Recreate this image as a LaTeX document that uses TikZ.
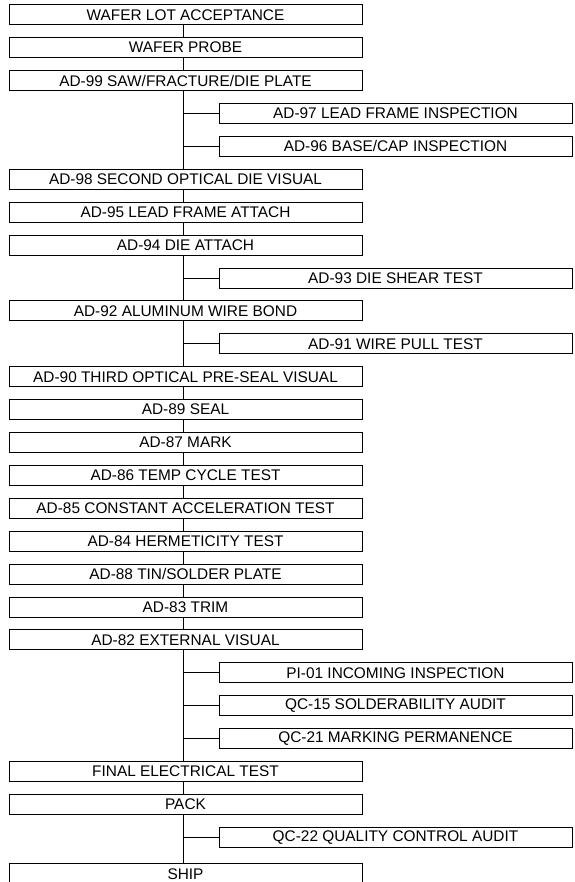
\documentclass[tikz,border=0pt]{standalone}
\usepackage{fontspec}
\setmainfont{Liberation Sans}
\begin{document}
\begin{tikzpicture}[x=1pt,y=-1pt,
  box/.style={draw=black,line width=0.9pt,inner sep=0pt,minimum height=20pt,font=\fontsize{15.4}{16}\selectfont,anchor=center},
  mainbox/.style={box,minimum width=353pt},
  sidebox/.style={box,minimum width=353pt},
  link/.style={draw=black,line width=0.9pt}]
\useasboundingbox (0,0) rectangle (574,882);
\clip (0,0) rectangle (574,882);
\coordinate (t) at (183,0);
\def\mx{185.5}
\def\sx{395.5}
\node[mainbox] (r0) at (\mx,{14.8+32.9*0}) {WAFER LOT ACCEPTANCE};
\node[mainbox] (r1) at (\mx,{14.8+32.9*1}) {WAFER PROBE};
\node[mainbox] (r2) at (\mx,{14.8+32.9*2}) {AD-99 SAW/FRACTURE/DIE PLATE};
\node[sidebox] (r3) at (\sx,{14.8+32.9*3}) {AD-97 LEAD FRAME INSPECTION};
\node[sidebox] (r4) at (\sx,{14.8+32.9*4}) {AD-96 BASE/CAP INSPECTION};
\node[mainbox] (r5) at (\mx,{14.8+32.9*5}) {AD-98 SECOND OPTICAL DIE VISUAL};
\node[mainbox] (r6) at (\mx,{14.8+32.9*6}) {AD-95 LEAD FRAME ATTACH};
\node[mainbox] (r7) at (\mx,{14.8+32.9*7}) {AD-94 DIE ATTACH};
\node[sidebox] (r8) at (\sx,{14.8+32.9*8}) {AD-93 DIE SHEAR TEST};
\node[mainbox] (r9) at (\mx,{14.8+32.9*9}) {AD-92 ALUMINUM WIRE BOND};
\node[sidebox] (r10) at (\sx,{14.8+32.9*10}) {AD-91 WIRE PULL TEST};
\node[mainbox] (r11) at (\mx,{14.8+32.9*11}) {AD-90 THIRD OPTICAL PRE-SEAL VISUAL};
\node[mainbox] (r12) at (\mx,{14.8+32.9*12}) {AD-89 SEAL};
\node[mainbox] (r13) at (\mx,{14.8+32.9*13}) {AD-87 MARK};
\node[mainbox] (r14) at (\mx,{14.8+32.9*14}) {AD-86 TEMP CYCLE TEST};
\node[mainbox] (r15) at (\mx,{14.8+32.9*15}) {AD-85 CONSTANT ACCELERATION TEST};
\node[mainbox] (r16) at (\mx,{14.8+32.9*16}) {AD-84 HERMETICITY TEST};
\node[mainbox] (r17) at (\mx,{14.8+32.9*17}) {AD-88 TIN/SOLDER PLATE};
\node[mainbox] (r18) at (\mx,{14.8+32.9*18}) {AD-83 TRIM};
\node[mainbox] (r19) at (\mx,{14.8+32.9*19}) {AD-82 EXTERNAL VISUAL};
\node[sidebox] (r20) at (\sx,{14.8+32.9*20}) {PI-01 INCOMING INSPECTION};
\node[sidebox] (r21) at (\sx,{14.8+32.9*21}) {QC-15 SOLDERABILITY AUDIT};
\node[sidebox] (r22) at (\sx,{14.8+32.9*22}) {QC-21 MARKING PERMANENCE};
\node[mainbox] (r23) at (\mx,{14.8+32.9*23}) {FINAL ELECTRICAL TEST};
\node[mainbox] (r24) at (\mx,{14.8+32.9*24}) {PACK};
\node[sidebox] (r25) at (\sx,{14.8+32.9*25}) {QC-22 QUALITY CONTROL AUDIT};
\node[mainbox,minimum height=24pt] (r26) at (\mx,{863.3+12}) {\raisebox{1.5pt}{SHIP}};
% trunk
\draw[link] (r0.south -| t) -- (r1.north -| t);
\draw[link] (r1.south -| t) -- (r2.north -| t);
\draw[link] (r2.south -| t) -- (r5.north -| t);
\draw[link] (r5.south -| t) -- (r6.north -| t);
\draw[link] (r6.south -| t) -- (r7.north -| t);
\draw[link] (r7.south -| t) -- (r9.north -| t);
\draw[link] (r9.south -| t) -- (r11.north -| t);
\draw[link] (r11.south -| t) -- (r12.north -| t);
\draw[link] (r12.south -| t) -- (r13.north -| t);
\draw[link] (r13.south -| t) -- (r14.north -| t);
\draw[link] (r14.south -| t) -- (r15.north -| t);
\draw[link] (r15.south -| t) -- (r16.north -| t);
\draw[link] (r16.south -| t) -- (r17.north -| t);
\draw[link] (r17.south -| t) -- (r18.north -| t);
\draw[link] (r18.south -| t) -- (r19.north -| t);
\draw[link] (r19.south -| t) -- (r23.north -| t);
\draw[link] (r23.south -| t) -- (r24.north -| t);
\draw[link] (r24.south -| t) -- (r26.north -| t);
% branches
\foreach \s in {r3,r4,r8,r10,r20,r21,r22,r25}
  \draw[link] (\s.west -| t) -- (\s.west);
\end{tikzpicture}
\end{document}
